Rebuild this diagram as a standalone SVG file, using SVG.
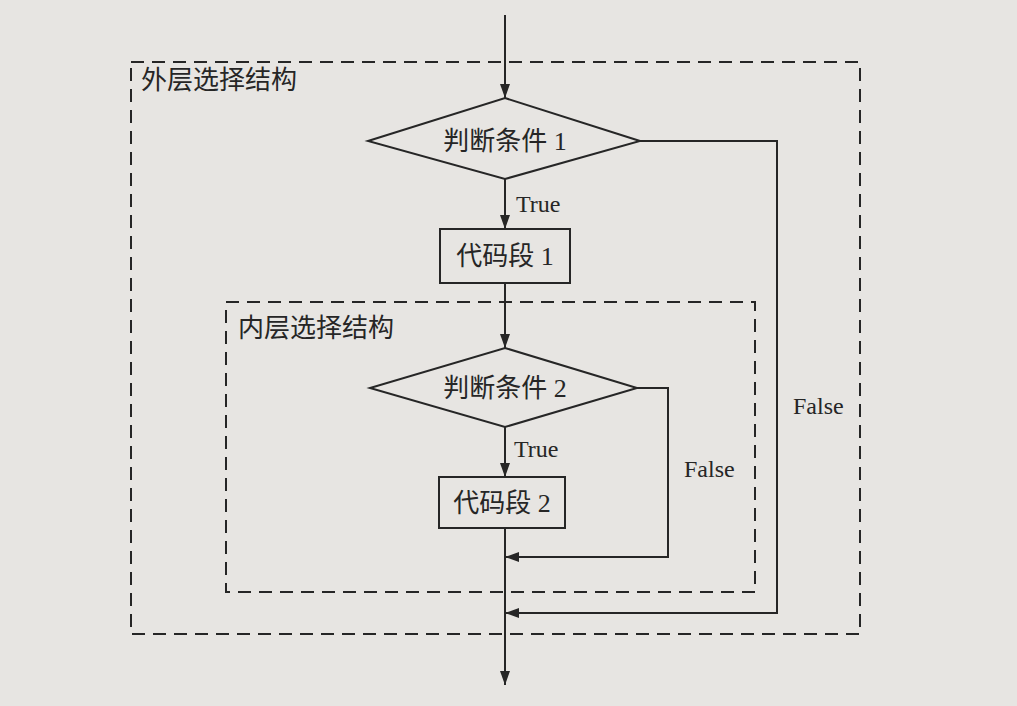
<svg xmlns="http://www.w3.org/2000/svg" width="1017" height="706" viewBox="0 0 1017 706">
<defs>
<style>
.bg{fill:#e7e5e2}
.shape{fill:none;stroke:#262626;stroke-width:2}
.dash{fill:none;stroke:#262626;stroke-width:2;stroke-dasharray:13 8}
.conn{fill:none;stroke:#262626;stroke-width:2}
.t{font-family:"Liberation Serif","Noto Sans CJK SC",serif;fill:#262626}
.lbl{font-size:26px}
.node{font-size:26px;text-anchor:middle}
.edge{font-size:24px}
</style>
<marker id="arr" viewBox="0 0 14 10" refX="14" refY="5" markerWidth="14" markerHeight="10" markerUnits="userSpaceOnUse" orient="auto">
<path d="M0,0 L14,5 L0,10 Z" fill="#262626"/>
</marker>
</defs>
<rect class="bg" x="0" y="0" width="1017" height="706"/>
<g id="outer-frame">
<rect class="dash" x="131" y="62" width="729" height="572"/>
<text class="t lbl" x="141" y="89">外层选择结构</text>
</g>
<g id="inner-frame">
<rect class="dash" x="226" y="302" width="529" height="290"/>
<text class="t lbl" x="238" y="337">内层选择结构</text>
</g>
<g id="connectors">
<path class="conn" d="M505,15 L505,98" marker-end="url(#arr)"/>
<path class="conn" d="M505,179 L505,229" marker-end="url(#arr)"/>
<path class="conn" d="M505,283 L505,348" marker-end="url(#arr)"/>
<path class="conn" d="M505,427 L505,477" marker-end="url(#arr)"/>
<path class="conn" d="M505,528 L505,685" marker-end="url(#arr)"/>
<path class="conn" d="M637,388 L668,388 L668,557 L505,557" marker-end="url(#arr)"/>
<path class="conn" d="M640,141 L777,141 L777,613 L505,613" marker-end="url(#arr)"/>
<text class="t edge" x="516" y="212">True</text>
<text class="t edge" x="514" y="457">True</text>
<text class="t edge" x="684" y="477">False</text>
<text class="t edge" x="793" y="414">False</text>
</g>
<g id="cond1">
<polygon class="shape" points="505,98 640,141 505,179 368,141"/>
<text class="t node" x="505" y="150">判断条件 1</text>
</g>
<g id="code1">
<rect class="shape" x="440" y="229" width="130" height="54"/>
<text class="t node" x="505" y="265">代码段 1</text>
</g>
<g id="cond2">
<polygon class="shape" points="505,348 637,388 505,427 370,388"/>
<text class="t node" x="505" y="397">判断条件 2</text>
</g>
<g id="code2">
<rect class="shape" x="439" y="477" width="126" height="51"/>
<text class="t node" x="502" y="512">代码段 2</text>
</g>
</svg>
